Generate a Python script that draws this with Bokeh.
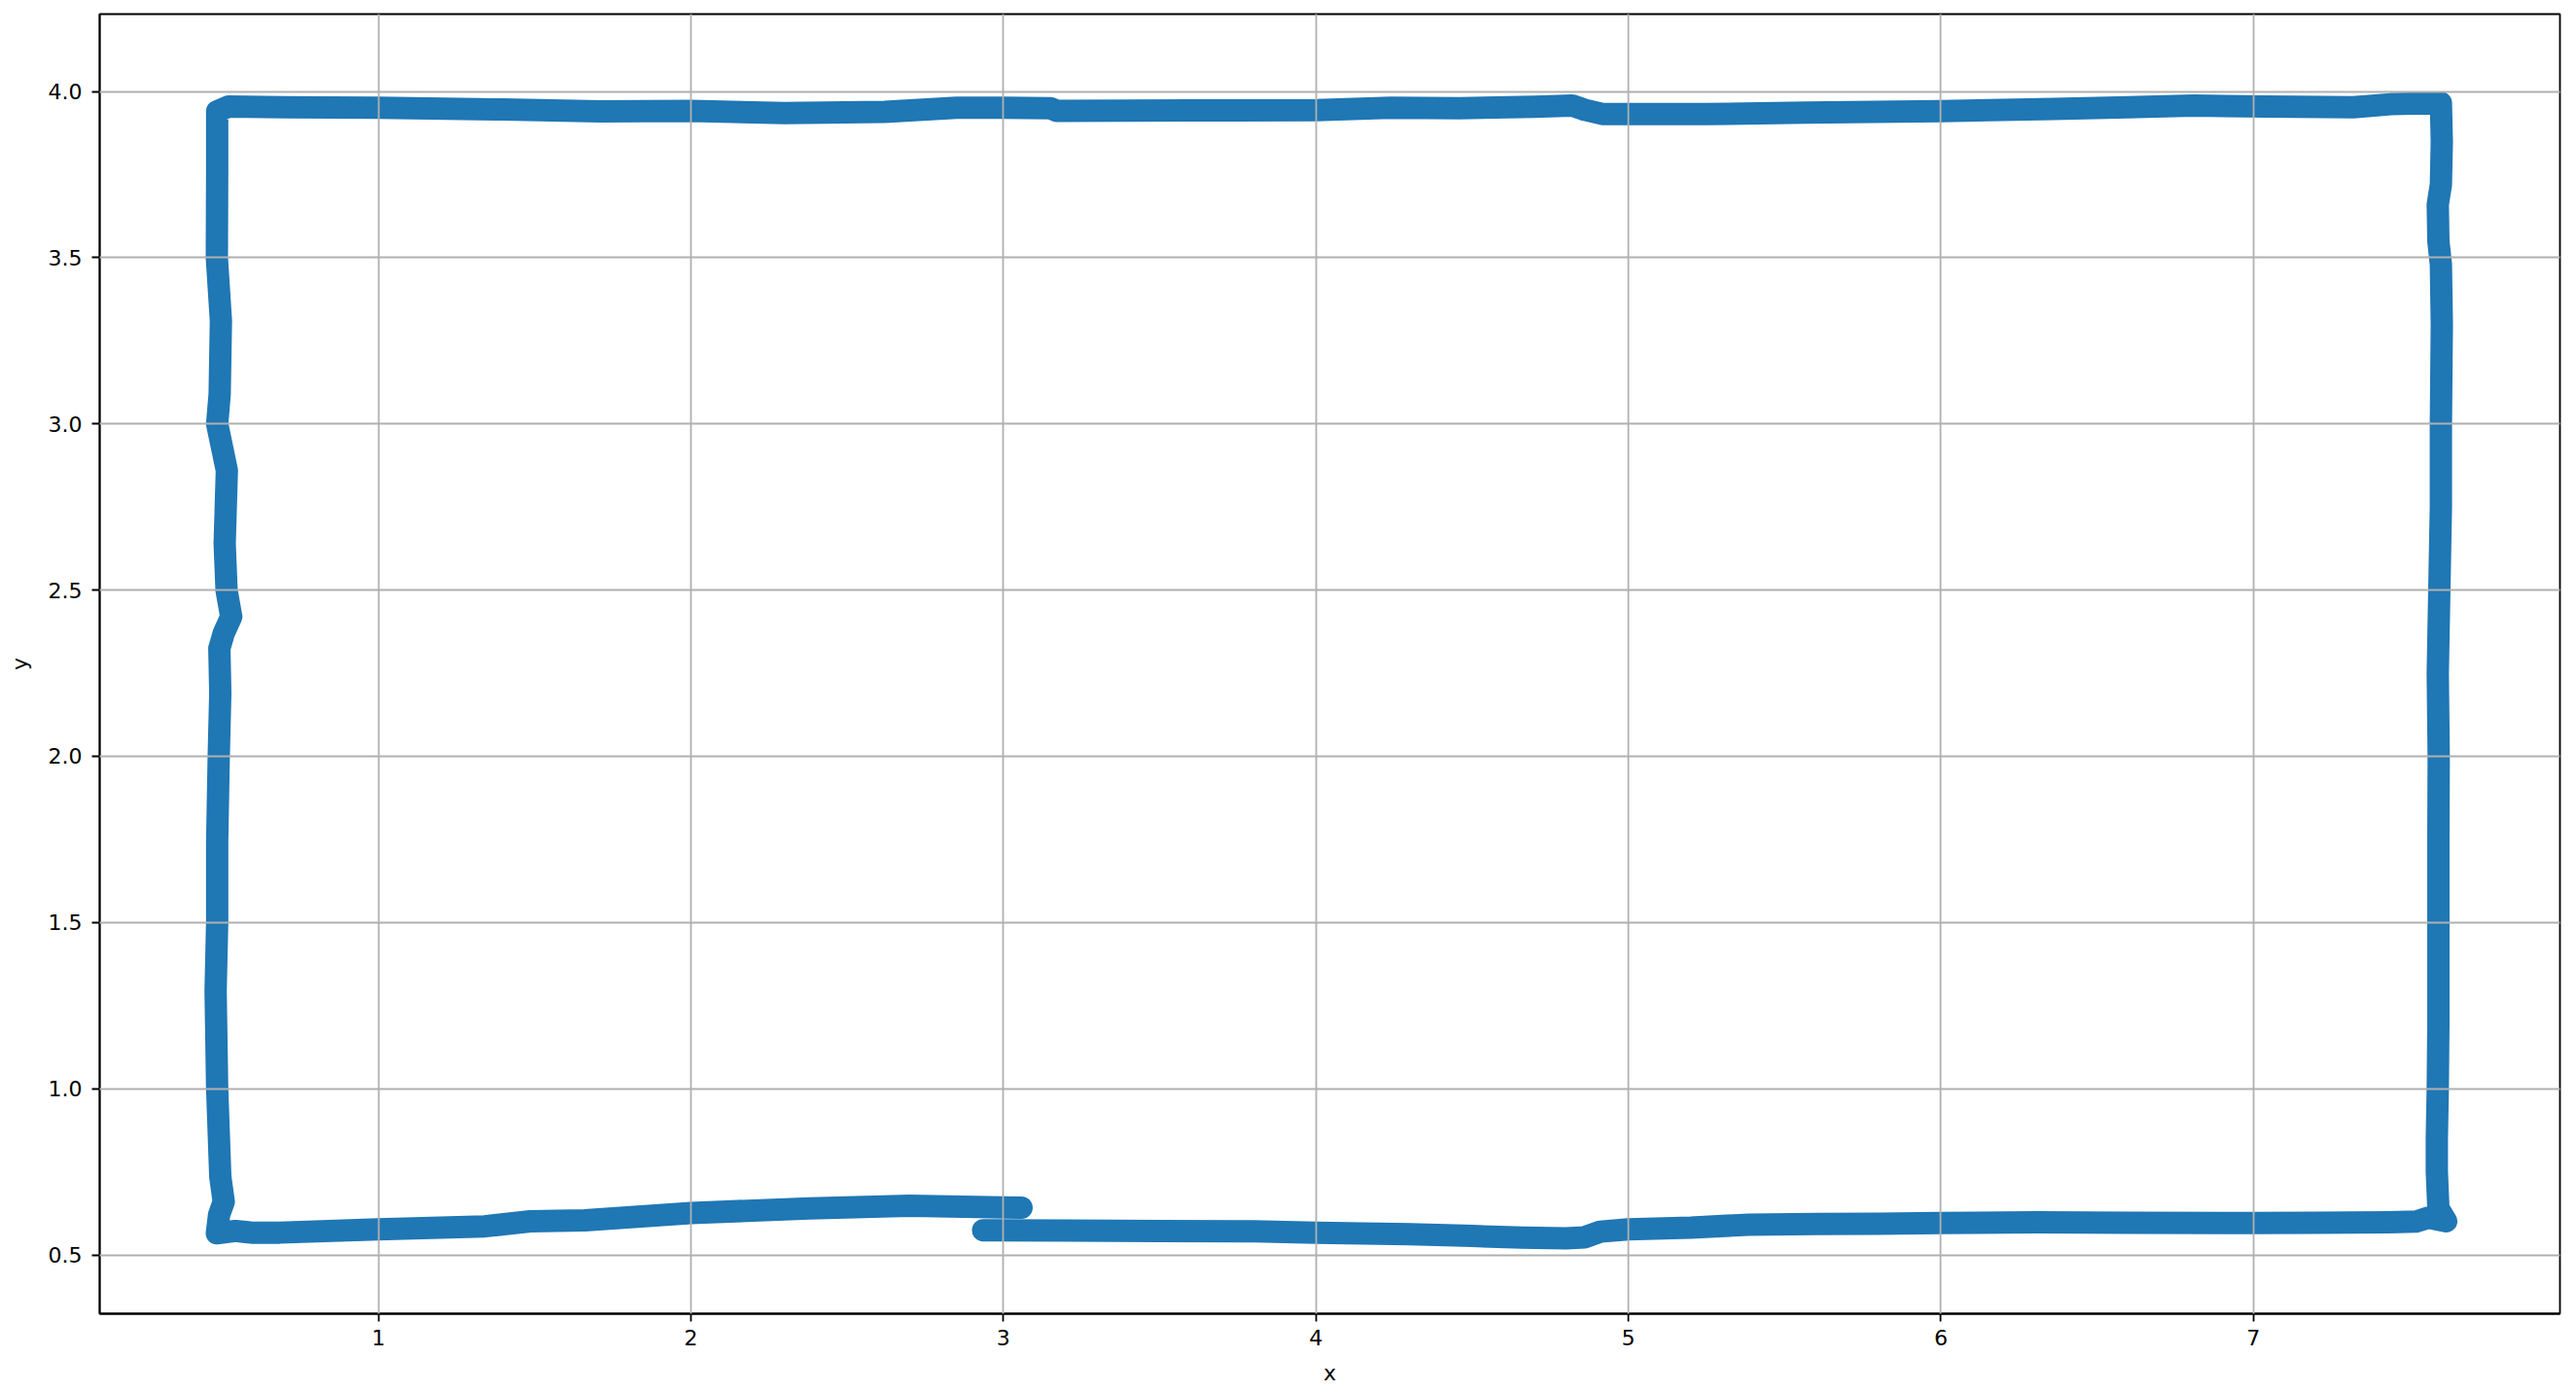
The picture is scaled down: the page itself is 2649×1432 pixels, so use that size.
from bokeh.plotting import figure
from bokeh.models import Range1d, FixedTicker, ColumnDataSource
from bokeh.embed import file_html
from bokeh.resources import INLINE

# Trajectory (in travel order)
traj_x = [
    2.935, 3.2, 3.5, 3.8, 4.0, 4.3, 4.5, 4.66, 4.80, 4.86, 4.91, 5.0, 5.2, 5.385, 5.6, 5.8, 6.0,
    6.306, 6.6, 7.0, 7.2, 7.433, 7.52, 7.56, 7.617,
    7.592, 7.587, 7.587, 7.590, 7.592, 7.592, 7.592, 7.593, 7.590, 7.595, 7.600, 7.600,
    7.603, 7.600, 7.592, 7.590, 7.600, 7.603, 7.600,
    7.44, 7.32, 7.04, 6.81, 6.6, 6.36, 6.0, 5.57, 5.25, 5.0, 4.92, 4.86, 4.82, 4.7, 4.46,
    4.24, 4.0, 3.6, 3.17, 3.15, 3.0, 2.85, 2.62, 2.3, 2.0, 1.71, 1.4, 1.0, 0.7, 0.52, 0.484,
    0.484, 0.483, 0.496, 0.492, 0.484, 0.515, 0.508, 0.514, 0.529, 0.505, 0.491, 0.494,
    0.489, 0.484, 0.484, 0.479, 0.484, 0.494, 0.505, 0.490, 0.483,
    0.542, 0.593, 0.685, 1.0, 1.34, 1.486, 1.66, 2.0, 2.379, 2.70, 3.0, 3.058,
]
traj_y = [
    0.574, 0.573, 0.572, 0.571, 0.567, 0.562, 0.557, 0.552, 0.550, 0.553, 0.570, 0.577, 0.582, 0.591, 0.593, 0.594, 0.596,
    0.598, 0.597, 0.596, 0.597, 0.598, 0.600, 0.612, 0.601,
    0.640, 0.750, 0.850, 1.000, 1.200, 1.450, 1.750, 2.000, 2.250, 2.500, 2.750, 3.000,
    3.300, 3.480, 3.550, 3.660, 3.720, 3.850, 3.966,
    3.962, 3.953, 3.955, 3.958, 3.953, 3.948, 3.941, 3.937, 3.932, 3.932, 3.932, 3.945, 3.958, 3.954, 3.950,
    3.951, 3.944, 3.943, 3.942, 3.950, 3.951, 3.951, 3.939, 3.935, 3.942, 3.940, 3.946, 3.951, 3.953, 3.955, 3.940,
    3.757, 3.500, 3.310, 3.090, 3.000, 2.860, 2.640, 2.500, 2.420, 2.370, 2.325, 2.190,
    2.000, 1.742, 1.500, 1.294, 1.000, 0.735, 0.660, 0.620, 0.565,
    0.572, 0.567, 0.567, 0.577, 0.586, 0.601, 0.604, 0.626, 0.640, 0.648, 0.643, 0.642,
]

x_ticks = [1, 2, 3, 4, 5, 6, 7]
x_tick_labels = ["1", "2", "3", "4", "5", "6", "7"]
y_ticks = [0.5, 1.0, 1.5, 2.0, 2.5, 3.0, 3.5, 4.0]
y_tick_labels = ["0.5", "1.0", "1.5", "2.0", "2.5", "3.0", "3.5", "4.0"]

FONT = "DejaVu Sans"
FS = "22px"

src = ColumnDataSource(data=dict(x=traj_x, y=traj_y))

p = figure(width=2640, height=1430, output_backend="svg", toolbar_location=None,
           x_range=Range1d(0.108, 7.981), y_range=Range1d(0.323, 4.233),
           min_border_left=102, min_border_right=8, min_border_top=14, min_border_bottom=80)

p.line(x="x", y="y", source=src, line_width=23, line_color="#1f77b4",
       line_join="round", line_cap="round")

p.background_fill_color = "white"
p.border_fill_color = "white"
p.outline_line_color = "black"
p.outline_line_width = 1.8
p.outline_line_alpha = 1.0

p.xaxis.ticker = FixedTicker(ticks=x_ticks)
p.yaxis.ticker = FixedTicker(ticks=y_ticks)
p.xaxis.major_label_overrides = {t: l for t, l in zip(x_ticks, x_tick_labels)}
p.yaxis.major_label_overrides = {t: l for t, l in zip(y_ticks, y_tick_labels)}

for ax in (p.xaxis[0], p.yaxis[0]):
    ax.axis_line_color = "black"
    ax.axis_line_width = 1.8
    ax.major_tick_line_color = "black"
    ax.major_tick_line_width = 1.8
    ax.major_tick_out = 8
    ax.major_tick_in = 0
    ax.minor_tick_line_color = None
    ax.major_label_text_font = FONT
    ax.major_label_text_font_size = FS
    ax.major_label_text_color = "black"
    ax.axis_label_text_font = FONT
    ax.axis_label_text_font_size = FS
    ax.axis_label_text_font_style = "normal"
    ax.axis_label_text_color = "black"

p.xaxis.axis_label = "x"
p.yaxis.axis_label = "y"
p.xaxis.major_label_standoff = 8
p.yaxis.major_label_standoff = 10
p.xaxis.axis_label_standoff = 13
p.yaxis.axis_label_standoff = 14

for g in (p.xgrid[0], p.ygrid[0]):
    g.grid_line_color = "#b0b0b0"
    g.grid_line_width = 1.8
    g.level = "overlay"
p.xgrid.ticker = FixedTicker(ticks=x_ticks)
p.ygrid.ticker = FixedTicker(ticks=y_ticks)

open("out.html", "w").write(file_html(p, INLINE))
